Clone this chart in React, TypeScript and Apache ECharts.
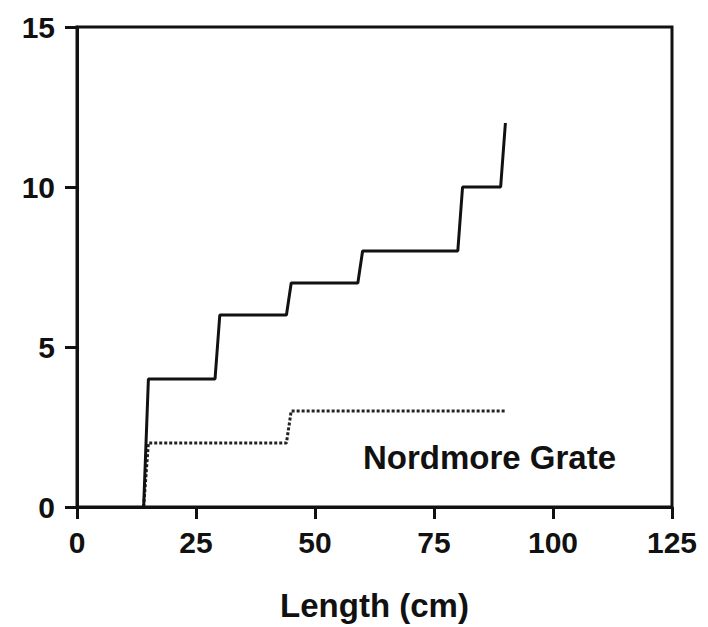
import React, { useEffect, useRef } from "react";
import * as echarts from "echarts";

// Cumulative counts by length (cm) — step outlines
const lengthsSolid = [14, 15, 29, 30, 44, 45, 59, 60, 80, 81, 89, 90];
const countsSolid = [0, 4, 4, 6, 6, 7, 7, 8, 8, 10, 10, 12];
const lengthsDotted = [14, 15, 44, 45, 90];
const countsDotted = [0, 2, 2, 3, 3];

const xTicks = [0, 25, 50, 75, 100, 125];
const yTicks = [0, 5, 10, 15];

const FONT = "'Liberation Sans', Arial, Helvetica, sans-serif";

export default function App() {
  const ref = useRef<HTMLDivElement>(null);

  useEffect(() => {
    if (!ref.current) return;
    const chart = echarts.init(ref.current, null, { renderer: "svg" });
    const solid = lengthsSolid.map((x, i) => [x, countsSolid[i]]);
    const dotted = lengthsDotted.map((x, i) => [x, countsDotted[i]]);

    chart.setOption({
      animation: false,
      backgroundColor: "#fff",
      grid: {
        left: 77,
        right: 36,
        top: 27,
        bottom: 119,
        show: true,
        borderColor: "#111",
        borderWidth: 3,
      },
      xAxis: {
        type: "value",
        min: xTicks[0],
        max: xTicks[xTicks.length - 1],
        interval: 25,
        name: "Length (cm)",
        nameLocation: "middle",
        nameGap: 82,
        nameTextStyle: { fontFamily: FONT, fontWeight: "bold", fontSize: 33, color: "#111" },
        axisLine: { show: true, lineStyle: { color: "#111", width: 3 } },
        axisTick: { show: true, length: 12, lineStyle: { color: "#111", width: 3 } },
        axisLabel: { margin: 20, fontFamily: FONT, fontWeight: "bold", fontSize: 30, color: "#111" },
        splitLine: { show: false },
      },
      yAxis: {
        type: "value",
        min: yTicks[0],
        max: yTicks[yTicks.length - 1],
        interval: 5,
        axisLine: { show: true, lineStyle: { color: "#111", width: 3 } },
        axisTick: { show: true, length: 12, lineStyle: { color: "#111", width: 3 } },
        axisLabel: { margin: 22, fontFamily: FONT, fontWeight: "bold", fontSize: 30, color: "#111" },
        splitLine: { show: false },
      },
      graphic: [
        {
          type: "text",
          x: 363,
          y: 441,
          style: {
            text: "Nordmore Grate",
            fontFamily: FONT,
            fontWeight: "bold",
            fontSize: 33,
            fill: "#111",
          },
        },
      ],
      series: [
        {
          type: "line",
          data: dotted,
          symbol: "none",
          lineStyle: { color: "#222", width: 3, type: [3, 2] },
          z: 2,
        },
        {
          type: "line",
          data: solid,
          symbol: "none",
          lineStyle: { color: "#111", width: 3 },
          z: 3,
        },
      ],
    });

    return () => chart.dispose();
  }, []);

  return (
    <div
      ref={ref}
      style={{ position: "absolute", left: 0, top: 0, width: 708, height: 627 }}
    />
  );
}
